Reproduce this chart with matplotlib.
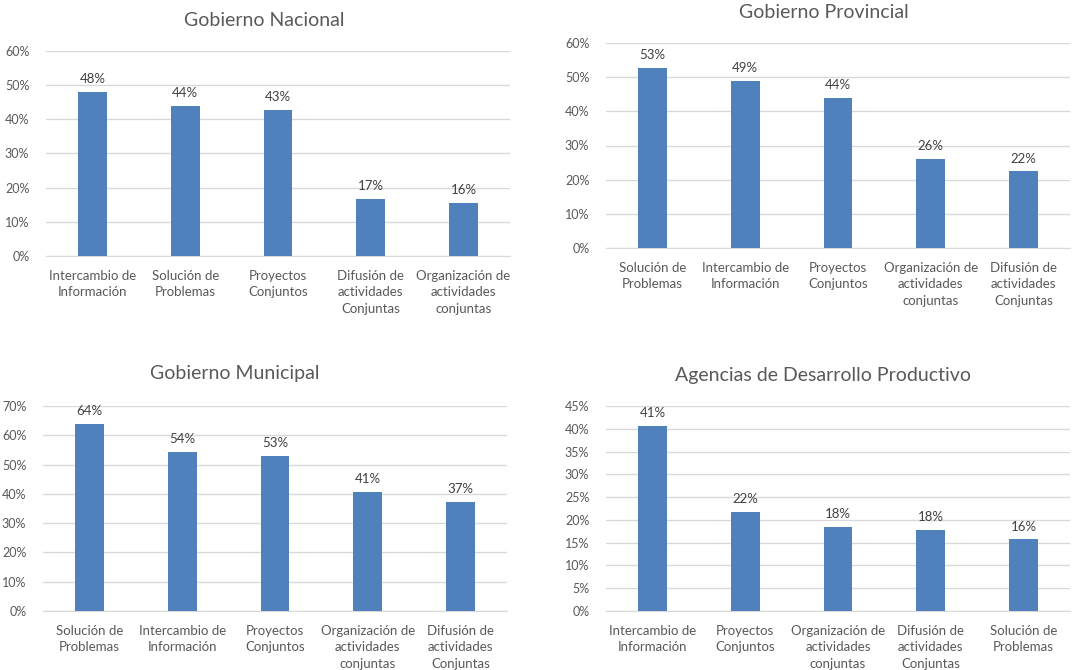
import matplotlib
matplotlib.use('Agg')
import matplotlib.pyplot as plt
from matplotlib.ticker import PercentFormatter

plt.rcParams['font.family'] = ['Lato', 'DejaVu Sans']

# data (fractions)
nac_cats = ['Intercambio de\nInformación', 'Solución de\nProblemas', 'Proyectos\nConjuntos',
            'Difusión de\nactividades\nConjuntas', 'Organización de\nactividades\nconjuntas']
nac_vals = [0.479, 0.439, 0.427, 0.167, 0.156]

prov_cats = ['Solución de\nProblemas', 'Intercambio de\nInformación', 'Proyectos\nConjuntos',
             'Organización de\nactividades\nconjuntas', 'Difusión de\nactividades\nConjuntas']
prov_vals = [0.528, 0.488, 0.439, 0.260, 0.224]

mun_cats = ['Solución de\nProblemas', 'Intercambio de\nInformación', 'Proyectos\nConjuntos',
            'Organización de\nactividades\nconjuntas', 'Difusión de\nactividades\nConjuntas']
mun_vals = [0.640, 0.542, 0.530, 0.406, 0.372]

adp_cats = ['Intercambio de\nInformación', 'Proyectos\nConjuntos', 'Organización de\nactividades\nconjuntas',
            'Difusión de\nactividades\nConjuntas', 'Solución de\nProblemas']
adp_vals = [0.407, 0.217, 0.184, 0.177, 0.157]

bar_color = '#4F81BD'
text_color = '#595959'
grid_color = '#D9D9D9'

W, H = 1086, 670
fig = plt.figure(figsize=(W / 100, H / 100), dpi=100)


def panel(box, cats, vals, title, ymax, step, title_xy):
    left, top, right, bottom = box
    ax = fig.add_axes([left / W, 1 - bottom / H, (right - left) / W, (bottom - top) / H])
    x = range(len(cats))
    ax.bar(x, vals, width=0.31, color=bar_color, zorder=3)
    for xi, v in zip(x, vals):
        ax.annotate(f'{round(v * 100):.0f}%', (xi, v), xytext=(0, 5), textcoords='offset points',
                    ha='center', va='bottom', fontsize=9.5, color='#404040')
    ax.set_xlim(-0.5, len(cats) - 0.5)
    ax.set_ylim(0, ymax)
    ticks = [i * step for i in range(int(round(ymax / step)) + 1)]
    ax.set_yticks(ticks)
    ax.yaxis.set_major_formatter(PercentFormatter(1.0, decimals=0))
    ax.set_xticks(list(x))
    ax.set_xticklabels(cats, fontsize=9.5, color=text_color, linespacing=1.45)
    ax.tick_params(axis='y', labelsize=9, labelcolor=text_color, length=0, pad=12)
    ax.tick_params(axis='x', length=0, pad=10)
    ax.grid(axis='y', color=grid_color, linewidth=1, zorder=0)
    for s in ['top', 'right', 'left']:
        ax.spines[s].set_visible(False)
    ax.spines['bottom'].set_color(grid_color)
    fig.text(title_xy[0] / W, 1 - title_xy[1] / H, title, ha='center', va='center',
             fontsize=14, color=text_color)
    return ax


panel((46, 51, 510, 256), nac_cats, nac_vals, 'Gobierno Nacional', 0.6, 0.1, (264, 20))
panel((606, 43, 1070, 248), prov_cats, prov_vals, 'Gobierno Provincial', 0.6, 0.1, (824, 12))
panel((43, 406, 507, 611), mun_cats, mun_vals, 'Gobierno Municipal', 0.7, 0.1, (235, 374))
panel((606, 406, 1070, 611), adp_cats, adp_vals, 'Agencias de Desarrollo Productivo', 0.45, 0.05, (823, 376))

fig.savefig('out.png', dpi=100, facecolor='white')
